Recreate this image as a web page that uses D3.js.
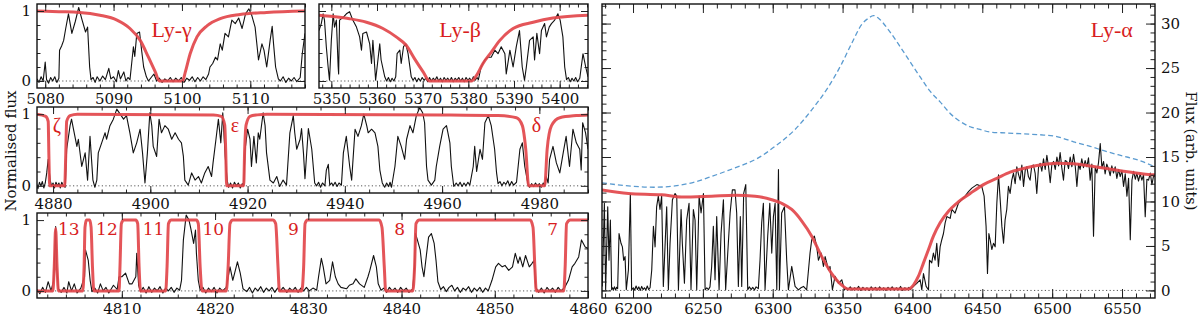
<!DOCTYPE html>
<html>
<head>
<meta charset="utf-8">
<script src="https://cdn.jsdelivr.net/npm/d3@7"></script>
<style>
  body { margin: 0; background: #fff; }
  svg { display: block; }
</style>
</head>
<body>
<div id="chart"></div>
<script>
/**
 * DATA (wavelength in Angstrom, normalised or raw flux)
 * */
const gammaSpec = [[5078.8,0.03],[5079.1,-0.02],[5079.4,0.06],[5079.7,0.0],[5080.0,0.27],[5080.2,0.02],[5080.5,-0.03],[5080.8,0.05],[5081.1,0.0],[5081.4,0.06],[5081.7,-0.02],[5082.0,0.04],[5082.1,0.44],[5082.4,0.5],[5082.7,0.58],[5083.0,0.75],[5083.4,0.96],[5083.9,0.68],[5084.4,0.85],[5084.9,1.05],[5085.4,0.87],[5085.9,0.7],[5086.2,0.77],[5086.5,0.2],[5086.7,0.02],[5087.0,0.05],[5087.3,-0.02],[5087.6,0.06],[5088.0,0.0],[5088.4,0.07],[5088.8,0.02],[5089.3,0.18],[5089.6,0.03],[5090.0,0.06],[5090.4,-0.01],[5090.7,0.15],[5091.0,0.03],[5091.5,0.13],[5091.8,0.0],[5092.1,0.05],[5092.4,0.02],[5092.7,0.3],[5092.9,0.49],[5093.1,0.35],[5093.4,0.68],[5093.8,0.7],[5094.1,0.44],[5094.4,0.2],[5094.8,0.06],[5095.1,0.0],[5095.5,0.05],[5095.9,0.1],[5096.3,0.0],[5096.7,0.04],[5097.1,-0.02],[5097.5,0.03],[5097.9,0.0],[5098.3,0.05],[5098.7,-0.01],[5099.1,0.04],[5099.5,0.0],[5099.9,0.05],[5100.3,-0.02],[5100.7,0.04],[5101.1,0.01],[5101.5,0.06],[5101.9,-0.01],[5102.3,0.05],[5102.7,0.0],[5103.1,0.06],[5103.5,0.02],[5103.9,0.1],[5104.1,0.2],[5104.5,0.25],[5104.9,0.34],[5105.2,0.3],[5105.6,0.53],[5105.9,0.44],[5106.3,0.68],[5106.8,0.63],[5107.3,0.87],[5107.8,0.82],[5108.3,0.9],[5108.8,0.75],[5109.3,0.96],[5109.8,1.03],[5110.2,0.94],[5110.7,0.77],[5111.0,0.49],[5111.2,0.3],[5111.7,0.53],[5112.0,0.44],[5112.4,0.2],[5112.9,0.58],[5113.2,0.78],[5113.4,0.53],[5113.7,0.2],[5114.1,0.03],[5114.4,0.0],[5114.8,0.06],[5115.2,-0.02],[5115.6,0.04],[5116.0,0.0],[5116.4,0.05],[5116.8,-0.01],[5117.3,0.05],[5117.6,0.39],[5118.0,0.68]];
const gammaModel = [[5078.8,1.0],[5082,0.99],[5085,0.98],[5088,0.94],[5090.5,0.87],[5092.4,0.75],[5093.9,0.58],[5095.1,0.34],[5096.1,0.13],[5096.7,0.0],[5100.1,0.0],[5100.5,0.13],[5101.2,0.39],[5102.2,0.63],[5103.7,0.79],[5105.6,0.89],[5108.5,0.95],[5112.4,0.98],[5118,1.0]];

const betaSpec = [[5347.3,0.72],[5347.8,0.82],[5348.2,0.96],[5348.5,0.87],[5348.9,0.49],[5349.3,0.2],[5349.6,0.01],[5350.0,0.58],[5350.4,0.96],[5350.7,0.77],[5351.1,0.87],[5351.5,0.2],[5351.6,0.1],[5351.8,0.87],[5352.6,0.91],[5353.3,0.96],[5354.0,0.99],[5354.7,0.87],[5355.5,0.77],[5356.2,0.63],[5356.6,0.44],[5356.9,0.68],[5357.7,0.7],[5358.4,0.53],[5358.8,0.25],[5359.1,0.58],[5359.7,0.01],[5360.2,0.3],[5360.6,0.53],[5360.9,0.3],[5361.7,0.06],[5362.1,0.0],[5362.5,0.05],[5362.9,-0.01],[5363.3,0.04],[5363.7,0.0],[5364.1,0.06],[5364.4,0.39],[5365.0,0.44],[5365.3,0.25],[5365.8,0.49],[5366.3,0.53],[5366.8,0.39],[5367.5,0.06],[5367.9,0.01],[5368.3,0.05],[5368.7,-0.01],[5369.1,0.04],[5369.5,0.0],[5369.9,0.05],[5370.3,0.01],[5370.7,0.04],[5371.1,-0.01],[5371.5,0.05],[5371.9,0.0],[5372.3,0.04],[5372.7,0.01],[5373.1,0.06],[5373.5,0.0],[5373.9,0.04],[5374.3,-0.01],[5374.7,0.05],[5375.1,0.01],[5375.5,0.04],[5375.9,0.0],[5376.3,0.05],[5376.7,-0.01],[5377.1,0.04],[5377.5,0.01],[5377.9,0.05],[5378.3,0.0],[5378.7,0.04],[5379.1,-0.01],[5379.5,0.05],[5379.9,0.01],[5380.3,0.04],[5380.7,0.0],[5381.1,0.06],[5381.5,0.01],[5381.9,0.05],[5382.2,0.02],[5382.8,0.2],[5383.6,0.3],[5384.3,0.34],[5385.0,0.34],[5385.8,0.44],[5386.5,0.39],[5387.2,0.49],[5388.0,0.39],[5388.3,0.1],[5389.1,0.44],[5389.8,0.2],[5390.5,0.49],[5391.2,0.72],[5391.8,0.2],[5392.3,0.01],[5392.7,0.2],[5393.4,0.58],[5394.2,0.63],[5394.5,0.3],[5395.0,0.68],[5395.6,0.39],[5396.0,0.72],[5396.7,0.82],[5397.1,0.63],[5397.7,0.77],[5398.2,0.82],[5398.9,0.87],[5399.6,0.96],[5400.1,0.87],[5400.7,0.63],[5401.1,0.2],[5401.5,0.02],[5401.9,0.05],[5402.3,-0.01],[5402.7,0.04],[5403.1,0.0],[5403.5,0.05],[5403.9,-0.01],[5404.4,0.04],[5405.1,0.39],[5405.7,0.2],[5406.2,0.06]];
const betaModel = [[5347.3,0.94],[5350.4,0.92],[5354,0.89],[5357.7,0.84],[5361.3,0.75],[5364.2,0.63],[5366.4,0.51],[5368.2,0.32],[5370.1,0.13],[5371.5,0],[5380.7,0],[5381.8,0.08],[5383.2,0.25],[5385,0.41],[5386.9,0.58],[5389.8,0.75],[5394.2,0.84],[5398.5,0.9],[5406.2,0.94]];

const highSpec = [[4876.6,0.03],[4876.9,-0.04],[4877.2,0.05],[4877.5,0.0],[4877.8,0.06],[4878.1,-0.03],[4878.4,0.04],[4878.7,0.18],[4879.0,0.37],[4879.4,0.08],[4879.7,0.0],[4880.0,0.04],[4880.3,-0.03],[4880.6,0.05],[4880.9,0.0],[4881.2,0.04],[4881.5,-0.03],[4881.8,0.05],[4882.1,0.0],[4882.5,-0.02],[4882.8,0.51],[4883.5,0.84],[4883.8,0.93],[4884.2,0.79],[4884.9,0.55],[4885.2,0.65],[4885.9,0.27],[4886.6,0.46],[4887.1,0.08],[4887.6,0.69],[4888.2,0.08],[4888.6,-0.02],[4889.0,0.08],[4889.3,0.46],[4890.0,0.6],[4890.7,0.74],[4891.0,0.65],[4891.7,0.84],[4892.4,0.93],[4893.1,1.07],[4893.8,1.0],[4894.5,0.93],[4895.1,0.98],[4895.8,0.74],[4896.5,0.46],[4897.2,0.6],[4897.9,0.79],[4898.4,0.46],[4898.9,0.04],[4899.4,0.46],[4899.9,1.02],[4900.3,0.84],[4900.6,0.55],[4901.3,0.41],[4901.8,0.93],[4902.3,0.74],[4903.0,0.84],[4903.7,0.79],[4904.4,0.65],[4905.1,0.74],[4905.8,0.65],[4906.4,0.6],[4906.8,0.41],[4907.1,0.08],[4907.8,0.01],[4908.5,0.18],[4909.2,0.08],[4909.9,0.13],[4910.5,0.04],[4911.2,0.18],[4911.9,0.27],[4912.6,0.13],[4912.9,0.32],[4913.5,0.65],[4914.0,0.93],[4914.5,0.6],[4914.9,1.02],[4915.4,0.41],[4915.8,0.08],[4916.1,-0.02],[4916.5,0.04],[4916.9,-0.03],[4917.3,0.05],[4917.7,0.0],[4918.1,0.04],[4918.5,-0.03],[4918.9,0.03],[4919.2,0.0],[4919.5,0.51],[4920.0,0.79],[4920.5,0.65],[4920.8,0.27],[4921.3,0.69],[4921.8,0.32],[4922.2,0.74],[4922.5,0.65],[4923.2,1.02],[4923.6,0.84],[4923.9,0.46],[4924.6,0.08],[4925.3,0.04],[4926.0,0.13],[4926.6,-0.01],[4927.3,0.08],[4928.0,0.01],[4928.7,0.74],[4929.4,0.98],[4929.7,0.74],[4930.1,0.51],[4930.8,0.65],[4931.1,0.8],[4931.5,0.45],[4931.8,0.1],[4932.5,0.8],[4933.2,0.51],[4933.8,0.04],[4934.2,0.0],[4934.6,0.05],[4935.0,-0.02],[4935.4,0.04],[4935.9,0.0],[4936.2,0.22],[4936.6,0.3],[4936.9,0.01],[4937.3,0.04],[4937.6,0.0],[4938.0,0.05],[4938.4,-0.01],[4938.8,0.04],[4939.3,0.01],[4939.7,0.46],[4940.3,0.69],[4941.0,0.27],[4941.4,0.08],[4942.1,0.79],[4942.7,0.69],[4943.4,0.84],[4943.9,1.0],[4944.5,0.84],[4944.8,0.74],[4945.5,0.79],[4946.2,0.74],[4946.8,0.55],[4947.2,0.22],[4947.7,0.04],[4948.2,-0.02],[4948.6,0.04],[4949.0,-0.01],[4949.3,0.05],[4949.6,-0.02],[4950.3,0.27],[4950.9,0.69],[4951.6,0.55],[4952.3,0.37],[4952.7,0.65],[4953.4,0.84],[4954.0,0.74],[4954.7,0.98],[4955.4,1.09],[4956.0,1.02],[4956.4,0.88],[4956.8,0.27],[4957.1,0.08],[4957.8,0.01],[4958.5,0.08],[4958.8,0.27],[4959.5,0.55],[4960.2,0.79],[4960.9,0.84],[4961.2,0.74],[4961.6,0.6],[4961.9,0.27],[4962.4,-0.01],[4962.9,0.04],[4963.3,0.0],[4963.7,0.05],[4964.1,-0.01],[4964.5,0.04],[4964.9,0.0],[4965.3,0.05],[4965.7,0.01],[4966.4,0.27],[4966.7,0.55],[4967.1,0.2],[4967.8,0.51],[4968.3,0.37],[4968.8,0.88],[4969.5,0.98],[4970.1,0.84],[4970.8,0.51],[4971.2,0.18],[4971.5,0.03],[4971.9,0.06],[4972.3,0.0],[4972.7,0.05],[4973.1,0.02],[4973.5,0.07],[4973.9,0.0],[4974.3,0.06],[4974.7,0.01],[4975.3,0.05],[4976.0,0.51],[4976.5,0.6],[4977.0,0.27],[4977.7,0.01],[4978.0,-0.02],[4978.4,0.03],[4978.8,-0.01],[4979.2,0.04],[4979.6,0.0],[4980.0,0.03],[4980.4,-0.02],[4980.8,0.04],[4981.1,0.0],[4981.4,0.13],[4981.8,0.04],[4982.1,0.37],[4982.8,0.55],[4983.5,0.32],[4984.2,0.18],[4984.9,0.46],[4985.5,0.69],[4986.2,0.27],[4986.9,0.79],[4987.6,0.6],[4988.3,0.51],[4988.6,0.22],[4988.9,0.88],[4989.5,0.74],[4990.0,0.51]];
const highModel = [[4876.7,1.0],[4878.5,0.97],[4879.0,0.9],[4879.15,0.4],[4879.3,0.0],[4882.4,0.0],[4882.6,0.4],[4882.8,0.9],[4883.5,0.98],[4885,1.0],[4913,0.99],[4914.6,0.97],[4915.3,0.85],[4915.5,0.5],[4915.7,0.0],[4919.2,0.0],[4919.4,0.5],[4919.7,0.85],[4920.5,0.97],[4922,0.99],[4924,1.0],[4960,0.99],[4971.5,0.98],[4975.3,0.95],[4976.5,0.84],[4977.2,0.51],[4977.8,0.0],[4981.1,0.0],[4981.6,0.51],[4982.5,0.84],[4984.2,0.95],[4987.6,0.98],[4990,0.99]];

const seriesSpec = [[4800.9,0.02],[4801.2,-0.04],[4801.5,0.05],[4801.8,-0.02],[4802.1,0.13],[4802.4,0.0],[4802.7,0.15],[4802.9,0.91],[4803.0,0.34],[4803.2,0.03],[4803.5,-0.02],[4803.8,0.05],[4804.1,-0.03],[4804.3,0.13],[4804.6,0.0],[4804.9,0.1],[4805.2,-0.03],[4805.6,0.04],[4806.0,0.2],[4806.1,0.58],[4806.4,0.43],[4806.6,0.15],[4806.8,-0.01],[4807.1,0.04],[4807.4,-0.03],[4807.7,0.1],[4808.0,0.0],[4808.3,0.05],[4808.6,-0.03],[4809.1,0.08],[4809.5,0.02],[4809.7,0.2],[4810.0,0.2],[4810.4,0.25],[4810.8,0.1],[4811.1,0.1],[4811.5,0.2],[4811.6,0.53],[4811.8,0.08],[4812.0,-0.01],[4812.3,0.05],[4812.6,-0.03],[4812.9,0.06],[4813.2,-0.02],[4813.5,0.04],[4813.8,0.0],[4814.1,0.06],[4814.4,-0.03],[4814.7,0.04],[4815.0,0.0],[4815.3,0.05],[4815.6,-0.02],[4815.9,0.04],[4816.2,0.01],[4816.4,0.15],[4816.6,0.72],[4816.9,1.07],[4817.2,1.0],[4817.4,0.88],[4817.7,0.67],[4817.9,0.86],[4818.0,0.53],[4818.2,0.15],[4818.4,0.01],[4818.7,0.05],[4819.0,-0.03],[4819.3,0.04],[4819.6,-0.01],[4819.9,0.05],[4820.2,-0.03],[4820.5,0.04],[4820.8,0.0],[4821.2,0.05],[4821.6,0.34],[4821.9,0.15],[4822.1,0.25],[4822.4,0.41],[4822.7,0.25],[4823.0,0.03],[4823.4,-0.01],[4823.7,0.05],[4824.0,-0.03],[4824.3,0.04],[4824.6,0.0],[4824.9,0.06],[4825.2,-0.02],[4825.5,0.04],[4825.8,0.0],[4826.1,0.05],[4826.4,-0.02],[4826.7,0.04],[4827.0,0.0],[4827.3,0.05],[4827.7,-0.02],[4828.0,0.04],[4828.3,0.0],[4828.6,0.05],[4828.9,-0.02],[4829.2,0.04],[4829.5,0.0],[4829.8,0.05],[4830.1,0.0],[4830.5,0.04],[4830.9,0.01],[4831.1,0.2],[4831.4,0.46],[4831.6,0.34],[4831.9,0.1],[4832.3,0.15],[4832.6,0.41],[4832.9,0.2],[4833.2,0.1],[4833.5,0.05],[4834.1,0.03],[4834.4,0.08],[4834.8,0.1],[4835.1,0.17],[4835.5,0.1],[4836.0,0.05],[4836.4,0.2],[4836.6,0.29],[4837.0,0.5],[4837.3,0.34],[4837.5,0.1],[4837.8,0.01],[4838.1,0.04],[4838.4,-0.02],[4838.7,0.05],[4839.0,0.0],[4839.3,0.04],[4839.6,-0.02],[4839.9,0.05],[4840.2,0.0],[4840.5,0.04],[4840.8,-0.02],[4841.2,0.03],[4841.4,0.34],[4841.5,0.81],[4841.7,0.72],[4842.0,0.58],[4842.2,0.34],[4842.4,0.2],[4842.6,0.43],[4842.9,0.76],[4843.2,0.81],[4843.5,0.67],[4843.7,0.43],[4843.9,0.13],[4844.2,0.02],[4844.5,0.06],[4844.8,-0.01],[4845.1,0.05],[4845.4,0.08],[4845.7,0.0],[4846.0,0.05],[4846.3,-0.02],[4846.6,0.04],[4846.9,0.01],[4847.2,0.06],[4847.5,-0.02],[4847.8,0.04],[4848.1,0.0],[4848.4,0.05],[4848.7,-0.02],[4849.0,0.04],[4849.3,0.0],[4849.7,0.15],[4850.1,0.34],[4850.4,0.39],[4850.8,0.34],[4851.1,0.36],[4851.5,0.29],[4851.9,0.34],[4852.2,0.53],[4852.5,0.39],[4852.7,0.48],[4853.0,0.34],[4853.3,0.5],[4853.7,0.34],[4854.0,0.39],[4854.2,0.43],[4854.4,0.05],[4854.7,-0.02],[4855.0,0.04],[4855.3,-0.03],[4855.6,0.05],[4855.9,0.0],[4856.2,0.04],[4856.5,-0.02],[4856.8,0.05],[4857.1,0.0],[4857.5,0.05],[4857.9,0.15],[4858.3,0.34],[4858.6,0.39],[4859.0,0.48],[4859.3,0.72],[4859.7,0.62],[4860.0,0.6]];
const seriesModel = [[4800.9,0.0],[4802.6,0.0],[4802.75,0.34],[4802.9,0.88],[4803.05,0.34],[4803.2,0.0],[4805.8,0.0],[4805.95,0.34],[4806.05,0.9],[4806.2,1.0],[4806.55,1.0],[4806.7,0.9],[4806.85,0.34],[4807.0,0.0],[4809.7,0.0],[4809.8,0.34],[4809.95,0.95],[4810.2,1.0],[4811.5,1.0],[4811.7,0.95],[4811.85,0.34],[4812.0,0.0],[4814.7,0.0],[4814.85,0.34],[4815.0,0.95],[4815.3,1.0],[4818.0,1.0],[4818.2,0.95],[4818.4,0.34],[4818.6,0.0],[4821.2,0.0],[4821.4,0.34],[4821.6,0.95],[4821.9,1.0],[4826.2,1.0],[4826.5,0.95],[4826.75,0.34],[4826.9,0.0],[4829.3,0.0],[4829.5,0.34],[4829.65,0.95],[4829.9,1.0],[4837.6,1.0],[4837.9,0.9],[4838.15,0.34],[4838.3,0.0],[4841.2,0.0],[4841.4,0.34],[4841.55,0.95],[4841.9,1.0],[4853.8,1.0],[4854.1,0.9],[4854.3,0.34],[4854.45,0.0],[4857.4,0.0],[4857.55,0.34],[4857.7,0.95],[4858.1,1.0],[4860,1.0]];
const seriesNames = ["13", "12", "11", "10", "9", "8", "7"];
const seriesNameWave = [4804.3, 4808.4, 4813.4, 4819.8, 4828.4, 4839.8, 4856.2];

const greekNames = ["ζ", "ε", "δ"];
const greekWave = [4880.8, 4917.4, 4979.4];

const alphaSpec = [[6178.0,0.45],[6179.5,9.8],[6180.4,0.07],[6181.9,9.4],[6182.8,3.4],[6183.8,7.9],[6184.7,0.07],[6185.3,0.3],[6185.9,0.1],[6186.7,0.4],[6187.5,0.05],[6188.3,0.35],[6189.0,0.2],[6190.0,6.4],[6191.4,5.3],[6192.4,4.9],[6193.3,3.4],[6194.3,3.8],[6195.2,0.07],[6196.7,2.3],[6198.1,10.9],[6199.0,0.07],[6200.2,0.3],[6201.2,0.05],[6202.2,0.5],[6203.2,0.1],[6204.2,0.4],[6205.2,0.0],[6206.2,0.45],[6207.2,0.1],[6208.2,0.3],[6209.2,0.05],[6210.2,0.5],[6211.2,0.1],[6212.2,0.3],[6213.4,2.3],[6214.6,7.2],[6215.8,4.9],[6216.9,9.4],[6218.1,10.6],[6219.3,9.1],[6220.5,10.6],[6221.7,0.45],[6222.9,4.9],[6224.1,9.4],[6225.3,0.07],[6226.5,5.3],[6228.2,10.2],[6230.1,10.9],[6231.3,10.6],[6232.5,0.07],[6234.4,9.1],[6235.3,5.3],[6236.8,0.8],[6238.4,7.9],[6240.1,9.8],[6241.5,0.07],[6243.2,9.1],[6244.4,7.9],[6245.6,0.07],[6247.3,10.6],[6248.7,8.7],[6250.4,10.9],[6251.6,0.07],[6252.8,0.3],[6254.0,0.1],[6255.1,0.4],[6256.3,2.7],[6257.5,7.2],[6258.7,1.2],[6259.9,8.3],[6261.6,0.07],[6263.0,6.4],[6264.7,10.2],[6266.3,0.07],[6267.8,4.2],[6269.5,8.7],[6271.1,11.3],[6273.0,11.3],[6274.2,8.7],[6275.4,0.45],[6276.8,8.3],[6277.8,0.45],[6279.2,10.9],[6280.7,11.9],[6282.1,0.07],[6283.3,0.4],[6284.5,0.1],[6285.7,0.35],[6286.9,0.05],[6288.1,0.4],[6289.7,0.2],[6290.9,3.4],[6292.1,7.6],[6293.3,9.8],[6294.5,0.07],[6296.4,6.1],[6297.9,9.8],[6299.3,4.2],[6300.5,8.3],[6301.7,9.8],[6302.9,0.07],[6304.1,13.6],[6304.8,0.07],[6306.4,8.7],[6308.4,9.4],[6310.0,3.4],[6311.2,0.07],[6313.6,2.7],[6316.0,0.45],[6318.4,0.07],[6320.2,0.3],[6322.0,0.45],[6324.3,0.07],[6326.7,4.2],[6327.9,5.7],[6329.8,6.1],[6331.5,4.9],[6332.7,3.4],[6334.6,4.2],[6336.3,2.7],[6337.5,3.8],[6339.9,2.3],[6341.0,2.7],[6342.7,0.07],[6344.6,1.6],[6347.0,0.8],[6349.4,1.2],[6351.3,0.07],[6352.5,0.3],[6354,0.1],[6355.5,0.4],[6357,0.05],[6358.5,0.3],[6360,0.15],[6361.5,0.45],[6363,0.0],[6364.5,0.35],[6366,0.1],[6367.5,0.3],[6369,0.0],[6370.5,0.4],[6372,0.1],[6373.5,0.35],[6375,0.05],[6376.5,0.4],[6378,0.1],[6379.5,0.3],[6381,0.0],[6382.5,0.35],[6384,0.1],[6385.5,0.4],[6387,0.05],[6388.5,0.3],[6390,0.1],[6391.5,0.45],[6393,0.0],[6394.5,0.3],[6396,0.1],[6397.5,0.35],[6398.5,0.1],[6400.7,0.45],[6403.1,0.8],[6405.5,1.2],[6406.7,0.07],[6407.9,1.9],[6409.8,0.45],[6411.5,0.07],[6412.2,3.4],[6413.8,3.1],[6415.0,4.2],[6416.2,3.4],[6417.4,5.3],[6418.6,2.7],[6419.8,4.9],[6421.0,5.7],[6422.2,6.4],[6423.4,7.6],[6424.6,8.3],[6427.0,8.1],[6428.2,9.1],[6430.5,8.7],[6432.9,9.8],[6435.3,10.2],[6437.7,10.6],[6440.1,11.1],[6442.5,11.5],[6446.1,11.9],[6449.6,11.7],[6451.3,10.6],[6452.7,7.2],[6453.7,1.9],[6454.7,6.4],[6455.6,5.7],[6456.8,4.6],[6458.0,5.3],[6459.2,4.9],[6460.4,9.8],[6461.6,13.0],[6462.8,10.2],[6464.0,7.2],[6465.2,5.3],[6466.3,7.9],[6467.5,9.1],[6468.7,11.7],[6469.9,10.9],[6471.1,12.4],[6472.3,13.2],[6473.5,12.0],[6474.7,13.9],[6476,13.0],[6477.1,12.4],[6478.3,14.1],[6479.5,11.7],[6480.7,13.5],[6481.9,13.9],[6483,12.8],[6484.2,12.4],[6485.4,14.0],[6486.6,14.1],[6487.8,13.2],[6489.0,10.9],[6490.2,13.8],[6491.4,14.3],[6492.6,13.4],[6493.8,14.8],[6495,13.6],[6496.2,15.2],[6497.4,13.9],[6498.6,12.1],[6499.8,14.2],[6501.0,14.5],[6502.2,13.6],[6503.4,15.0],[6504.6,14.0],[6505.7,15.5],[6506.9,13.8],[6508.1,12.4],[6509.3,14.6],[6510.5,14.5],[6511.7,13.7],[6512.9,15.0],[6514.1,13.9],[6515.3,15.3],[6516.5,14.0],[6517.7,11.7],[6518.9,14.2],[6520,13.6],[6521.2,14.8],[6522.4,13.8],[6523.6,14.6],[6524.8,13.9],[6526,14.9],[6527.2,12.4],[6528.4,14.2],[6529.6,6.1],[6530.8,13.9],[6532,13.2],[6533.2,14.4],[6534.4,16.5],[6535.6,13.8],[6536.8,14.5],[6537.9,13.1],[6539.1,14.2],[6540.3,13.7],[6541.5,12.9],[6542.7,14.0],[6543.9,13.2],[6545.1,13.9],[6546.3,12.6],[6547.5,13.6],[6548.7,12.8],[6549.9,13.5],[6551.1,11.7],[6552.3,13.1],[6553.5,10.6],[6554.7,12.6],[6555.9,5.7],[6557.1,12.4],[6558.3,13.4],[6559.5,12.5],[6560.6,13.2],[6561.8,12.3],[6563,13.1],[6564.2,12.4],[6565.4,13.0],[6566.6,8.3],[6567.8,12.5],[6569.0,12.4],[6570.2,13.2],[6571.4,11.9],[6572.6,12.9],[6573.6,12.8]];
const alphaModel = [[6177.8,11.3],[6196.7,10.9],[6220.5,10.75],[6234.8,10.5],[6256.3,10.6],[6273,10.7],[6287.4,10.6],[6299.3,10.2],[6306.4,9.8],[6313.6,9.1],[6320.8,7.8],[6327.9,6.1],[6335.1,3.8],[6342.2,1.9],[6349.4,0.6],[6354.2,0.15],[6397,0.15],[6400.7,0.6],[6404.3,1.6],[6407.9,3.1],[6411.5,4.6],[6415,6.1],[6419.8,7.6],[6425.8,8.9],[6431.7,9.8],[6441.3,10.9],[6450.8,11.9],[6460.4,12.6],[6469.9,13.3],[6479.5,13.7],[6491.4,14.1],[6503.3,14.3],[6515.3,14.25],[6527.2,14.0],[6539.2,13.7],[6551.1,13.4],[6565.4,13.1],[6573.6,13.0]];
const alphaCont = [[6177.8,12.1],[6196.7,11.75],[6215,11.6],[6230,11.75],[6244.4,12.2],[6256,12.8],[6268.3,13.5],[6280,14.2],[6288.5,14.8],[6301.7,16.2],[6316,18.1],[6327.9,20.3],[6339.9,22.9],[6349.4,25.5],[6356.6,27.8],[6363.7,29.9],[6368.5,30.6],[6372.1,30.9],[6375.7,30.6],[6382.8,29.3],[6391.2,27.4],[6398.3,25.7],[6405.5,24.0],[6412.6,22.4],[6419.8,21.2],[6427,19.9],[6434.1,19.0],[6441.3,18.4],[6448.4,18.1],[6455.6,17.8],[6467.5,17.7],[6479.5,17.6],[6491.4,17.5],[6503.3,17.3],[6515.3,16.7],[6527.2,16.2],[6539.2,15.6],[6551.1,15.1],[6560.6,14.7],[6573.6,13.9]];

const gammaTicks = [5080, 5090, 5100, 5110];
const betaTicks = [5350, 5360, 5370, 5380, 5390, 5400];
const highTicks = [4880, 4900, 4920, 4940, 4960, 4980];
const seriesTicks = [4810, 4820, 4830, 4840, 4850, 4860];
const alphaTicks = [6200, 6250, 6300, 6350, 6400, 6450, 6500, 6550];
const normTicks = [0, 1];
const fluxTicks = [0, 5, 10, 15, 20, 25, 30];

/**
 * CONSTANTS
 * */
const width = 1200, height = 317;
const RED = "#e2474b", RED_TEXT = "#d81e1e", BLUE = "#5b9bd0";
const tickFont = "DejaVu Serif";
const tickSize = 15;

const svg = d3.select("#chart")
  .append("svg")
  .attr("width", width)
  .attr("height", height)
  .style("background", "#fff");

const defs = svg.append("defs");

function styleAxis(g) {
  g.select(".domain").remove();
  g.attr("font-family", tickFont).attr("font-size", tickSize);
  g.selectAll(".tick line").attr("stroke", "#222").attr("stroke-width", 1);
  g.selectAll(".tick text").attr("fill", "#111");
}

function panel(p) {
  const x = d3.scaleLinear().domain(p.xDomain).range([p.left, p.right]);
  const y = d3.scaleLinear().domain(p.yDomain).range([p.bottom, p.top]);
  const g = svg.append("g");

  defs.append("clipPath").attr("id", "clip-" + p.id)
    .append("rect")
    .attr("x", p.left).attr("y", p.top)
    .attr("width", p.right - p.left).attr("height", p.bottom - p.top);

  const plot = g.append("g").attr("clip-path", `url(#clip-${p.id})`);

  // dotted zero line
  plot.append("line")
    .attr("x1", p.left).attr("x2", p.right)
    .attr("y1", y(0)).attr("y2", y(0))
    .attr("stroke", "#444").attr("stroke-width", 0.9)
    .attr("stroke-dasharray", "1.2,2.4");

  const line = d3.line().x(d => x(d[0])).y(d => y(d[1]));
  const smooth = d3.line().x(d => x(d[0])).y(d => y(d[1])).curve(d3.curveMonotoneX);

  if (p.cont) {
    plot.append("path").attr("d", smooth(p.cont))
      .attr("fill", "none").attr("stroke", BLUE)
      .attr("stroke-width", 1.3).attr("stroke-dasharray", "5,3");
  }
  plot.append("path").attr("d", line(p.spec))
    .attr("fill", "none").attr("stroke", "#111")
    .attr("stroke-width", 1.1).attr("stroke-linejoin", "round");
  plot.append("path").attr("d", smooth(p.model))
    .attr("fill", "none").attr("stroke", RED)
    .attr("stroke-width", 3).attr("stroke-opacity", 0.92);

  const mj = p.majorLen, mn = p.minorLen;

  // x axes (ticks inward)
  g.append("g").attr("transform", `translate(0,${p.bottom})`)
    .call(d3.axisBottom(x).tickValues(p.xTicks).tickSize(-mj).tickPadding(5).tickFormat(d3.format("d")))
    .call(styleAxis);
  g.append("g").attr("transform", `translate(0,${p.bottom})`)
    .call(d3.axisBottom(x).tickValues(p.xMinor).tickSize(-mn).tickFormat(""))
    .call(styleAxis);
  g.append("g").attr("transform", `translate(0,${p.top})`)
    .call(d3.axisTop(x).tickValues(p.xTicks).tickSize(-mj).tickFormat(""))
    .call(styleAxis);
  g.append("g").attr("transform", `translate(0,${p.top})`)
    .call(d3.axisTop(x).tickValues(p.xMinor).tickSize(-mn).tickFormat(""))
    .call(styleAxis);

  // y axes
  const leftMajor = d3.axisLeft(y).tickValues(p.yTicks).tickSize(-mj).tickPadding(6);
  leftMajor.tickFormat(p.labelLeft ? d3.format("d") : "");
  g.append("g").attr("transform", `translate(${p.left},0)`)
    .call(leftMajor).call(styleAxis);
  g.append("g").attr("transform", `translate(${p.left},0)`)
    .call(d3.axisLeft(y).tickValues(p.yMinor).tickSize(-mn).tickFormat(""))
    .call(styleAxis);
  const rightMajor = d3.axisRight(y).tickValues(p.yTicks).tickSize(-mj).tickPadding(6);
  rightMajor.tickFormat(p.labelRight ? d3.format("d") : "");
  g.append("g").attr("transform", `translate(${p.right},0)`)
    .call(rightMajor).call(styleAxis);
  g.append("g").attr("transform", `translate(${p.right},0)`)
    .call(d3.axisRight(y).tickValues(p.yMinor).tickSize(-mn).tickFormat(""))
    .call(styleAxis);

  // frame
  g.append("rect")
    .attr("x", p.left).attr("y", p.top)
    .attr("width", p.right - p.left).attr("height", p.bottom - p.top)
    .attr("fill", "none").attr("stroke", "#111").attr("stroke-width", 1.4);

  return { x, y, g };
}

const normMinor = [0.2, 0.4, 0.6, 0.8];

const pG = panel({ id: "gamma", left: 37, right: 305, top: 4, bottom: 88,
  xDomain: [5078.8, 5118], yDomain: [-0.1, 1.1],
  xTicks: gammaTicks, xMinor: d3.range(5080, 5119, 2),
  yTicks: normTicks, yMinor: normMinor, labelLeft: true,
  majorLen: 7, minorLen: 3.5, spec: gammaSpec, model: gammaModel });

const pB = panel({ id: "beta", left: 319, right: 588, top: 4, bottom: 88,
  xDomain: [5347.3, 5406.2], yDomain: [-0.1, 1.1],
  xTicks: betaTicks, xMinor: d3.range(5348, 5407, 2),
  yTicks: normTicks, yMinor: normMinor, labelLeft: false,
  majorLen: 7, minorLen: 3.5, spec: betaSpec, model: betaModel });

const pH = panel({ id: "high", left: 37, right: 588, top: 107, bottom: 193,
  xDomain: [4876.7, 4990], yDomain: [-0.1, 1.1],
  xTicks: highTicks, xMinor: d3.range(4880, 4991, 5),
  yTicks: normTicks, yMinor: normMinor, labelLeft: true,
  majorLen: 7, minorLen: 3.5, spec: highSpec, model: highModel });

const pS = panel({ id: "series", left: 37, right: 588, top: 213, bottom: 298,
  xDomain: [4800.9, 4860], yDomain: [-0.1, 1.1],
  xTicks: seriesTicks, xMinor: d3.range(4802, 4861, 2),
  yTicks: normTicks, yMinor: normMinor, labelLeft: true,
  majorLen: 7, minorLen: 3.5, spec: seriesSpec, model: seriesModel });

const pA = panel({ id: "alpha", left: 602, right: 1155, top: 4, bottom: 298,
  xDomain: [6177.8, 6573.6], yDomain: [-0.85, 32.2],
  xTicks: alphaTicks, xMinor: d3.range(6180, 6574, 10),
  yTicks: fluxTicks, yMinor: d3.range(0, 33, 1), labelLeft: false, labelRight: true,
  majorLen: 9, minorLen: 4.5, spec: alphaSpec, model: alphaModel, cont: alphaCont });

/* red line labels */
function redLabel(pn, wave, val, text, size, family, baseline) {
  pn.g.append("text")
    .attr("x", pn.x(wave)).attr("y", pn.y(val))
    .attr("text-anchor", "middle")
    .attr("dominant-baseline", baseline || "auto")
    .attr("font-family", family)
    .attr("font-size", size)
    .attr("fill", RED_TEXT)
    .text(text);
}
redLabel(pG, 5098.5, 0.63, "Ly-γ", 22, "Liberation Serif");
redLabel(pB, 5378.2, 0.63, "Ly-β", 22, "Liberation Serif");
redLabel(pA, 6542.7, 28.5, "Ly-α", 22, "Liberation Serif");
greekNames.forEach((t, i) => redLabel(pH, greekWave[i], 0.85, t, 20, "Liberation Serif", "central"));
seriesNames.forEach((t, i) => redLabel(pS, seriesNameWave[i], 0.87, t, 17, "DejaVu Serif", "central"));

/* axis titles */
svg.append("text")
  .attr("transform", "translate(16,151) rotate(-90)")
  .attr("text-anchor", "middle")
  .attr("font-family", tickFont).attr("font-size", 15)
  .attr("fill", "#111")
  .text("Normalised flux");

svg.append("text")
  .attr("transform", "translate(1186,151) rotate(90)")
  .attr("text-anchor", "middle")
  .attr("font-family", tickFont).attr("font-size", 14.5)
  .attr("fill", "#111")
  .text("Flux (arb. units)");
</script>
</body>
</html>
